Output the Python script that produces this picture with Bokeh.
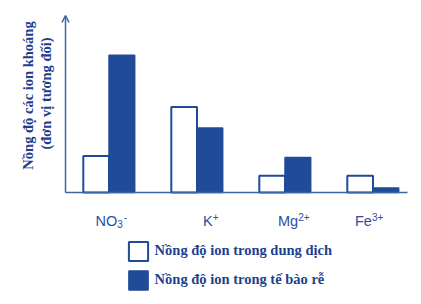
import math
from bokeh.plotting import figure
from bokeh.models import ColumnDataSource, Range1d, Arrow, OpenHead, Label, Legend, LegendItem
from bokeh.transform import dodge
from bokeh.embed import file_html
from bokeh.resources import INLINE

# ---- data ----
categories = ["NO3-", "K+", "Mg2+", "Fe3+"]
label_base = ["NO", "K", "Mg", "Fe"]
label_sub = ["3", "", "", ""]
label_sup = ["-", "+", "2+", "3+"]
solution = [2.6, 6.1, 1.2, 1.2]      # Nồng độ ion trong dung dịch
root_cell = [9.8, 4.6, 2.5, 0.32]    # Nồng độ ion trong tế bào rễ
series_names = ["Nồng độ ion trong dung dịch", "Nồng độ ion trong tế bào rễ"]
y_title = ["Nồng độ các ion khoáng", "(đơn vị tương đối)"]

# ---- styles ----
BLUE = "#1f4b98"
AXIS = "#3d63aa"
TEXT = "#1e3f8e"
LBL = "#2a4f9f"
label_dx = [-13.5, 6, -7, -18]      # left edge of label relative to group centre (px)
BASE_FS = 14.5
SCRIPT_FS = 10
# Arial-metric advance widths (em) for base letters / script characters
ADV = {"N": 0.722, "O": 0.778, "K": 0.667, "M": 0.833, "g": 0.556, "F": 0.611, "e": 0.556,
       "3": 0.556, "2": 0.556, "+": 0.584, "-": 0.333}
PX = 88.0   # px per category
PY = 14.0   # px per unit

src = ColumnDataSource(dict(idx=list(range(len(categories))), sol=solution, root=root_cell))

xs = -108.5 / PX
p = figure(width=421, height=304, output_backend="svg", toolbar_location=None,
           x_range=Range1d(xs, xs + 421 / PX), y_range=Range1d(-112 / PY, 192 / PY),
           min_border=0)
p.xaxis.visible = False
p.yaxis.visible = False
p.grid.visible = False
p.outline_line_color = None
p.background_fill_color = "white"

def xpx(px):
    return xs + px / PX

def ypx(py):
    return (192 - py) / PY

bw = 0.292
r1 = p.vbar(x=dodge("idx", -bw / 2, range=p.x_range), top="sol", width=bw, source=src,
            fill_color="white", line_color=BLUE, line_width=2)
r2 = p.vbar(x=dodge("idx", bw / 2, range=p.x_range), top="root", width=bw, source=src,
            fill_color=BLUE, line_color=BLUE, line_width=1.5)

# axes
p.segment(x0=[xpx(65)], y0=[0], x1=[xpx(407)], y1=[0], line_color=AXIS, line_width=1.5)
p.add_layout(Arrow(x_start=xpx(65), y_start=0, x_end=xpx(65), y_end=ypx(15), line_color=AXIS,
                   line_width=1.5, end=OpenHead(size=7, line_color=AXIS, line_width=1.5)))

# category labels (base + subscript + superscript)
for i in range(len(categories)):
    off = label_dx[i]
    common = dict(x=i, text_align="left", text_baseline="alphabetic", text_color=LBL,
                  text_font="Liberation Sans")
    p.add_layout(Label(y=ypx(220), x_offset=off, text=label_base[i],
                       text_font_size=f"{BASE_FS}px", **common))
    off += sum(ADV[c] for c in label_base[i]) * BASE_FS
    if label_sub[i]:
        p.add_layout(Label(y=ypx(223.5), x_offset=off, text=label_sub[i],
                           text_font_size=f"{SCRIPT_FS}px", **common))
        off += sum(ADV[c] for c in label_sub[i]) * SCRIPT_FS + 1
    p.add_layout(Label(y=ypx(216.5), x_offset=off, text=label_sup[i],
                       text_font_size=f"{SCRIPT_FS}px", **common))

# y title
for j, t in enumerate(y_title):
    p.add_layout(Label(x=xpx(27.5 + 17.5 * j), y=ypx(95 - 2 * j), text=t, angle=math.pi / 2,
                       text_align="center", text_baseline="middle", text_color=TEXT,
                       text_font="Liberation Serif", text_font_style="bold", text_font_size="14.5px"))

legend = Legend(items=[LegendItem(label=series_names[0], renderers=[r1]),
                       LegendItem(label=series_names[1], renderers=[r2])],
                location=(125.6, 304 - 291.5), orientation="vertical",
                glyph_width=24, glyph_height=24, label_height=24, spacing=5, label_standoff=5,
                padding=0, margin=0, border_line_color=None, background_fill_alpha=0,
                label_text_font="Liberation Serif", label_text_font_style="bold",
                label_text_font_size="14.5px", label_text_color=TEXT)
p.add_layout(legend)

open("out.html", "w").write(file_html(p, INLINE))
